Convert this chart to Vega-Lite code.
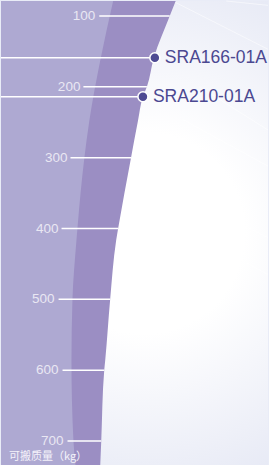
{
  "$schema": "https://vega.github.io/schema/vega-lite/v6.json",
  "width": 269,
  "height": 465,
  "padding": 0,
  "autosize": {"type": "fit", "contains": "padding"},
  "background": "#E9ECF7",
  "config": {"view": {"stroke": null}},
  "datasets": {
    "bg": [{"x": 0, "x2": 269, "v": 78.87, "v2": 733.8}],
    "streaks": [
      {"x": 227, "v": 78.9, "x2": 269, "v2": 85},
      {"x": 173, "v": 78.9, "x2": 269, "v2": 147},
      {"x": 200, "v": 200, "x2": 269, "v2": 261},
      {"x": 183, "v": 246, "x2": 269, "v2": 312},
      {"x": 190, "v": 357, "x2": 269, "v2": 413},
      {"x": 197, "v": 410, "x2": 269, "v2": 465}
    ],
    "dark": [
      {"v": 78.87, "x": 176, "x0": 0},
      {"v": 100, "x": 170, "x0": 0},
      {"v": 159, "x": 154, "x0": 0},
      {"v": 200, "x": 147, "x0": 0},
      {"v": 214, "x": 143, "x0": 0},
      {"v": 248, "x": 138, "x0": 0},
      {"v": 300, "x": 131, "x0": 0},
      {"v": 400, "x": 118, "x0": 0},
      {"v": 417, "x": 116, "x0": 0},
      {"v": 500, "x": 110, "x0": 0},
      {"v": 586, "x": 105, "x0": 0},
      {"v": 600, "x": 104, "x0": 0},
      {"v": 700, "x": 101, "x0": 0},
      {"v": 733.8, "x": 100, "x0": 0}
    ],
    "light": [
      {"v": 78.87, "x": 113, "x0": 0},
      {"v": 163, "x": 100, "x0": 0},
      {"v": 248, "x": 89, "x0": 0},
      {"v": 300, "x": 84, "x0": 0},
      {"v": 400, "x": 77, "x0": 0},
      {"v": 417, "x": 76, "x0": 0},
      {"v": 500, "x": 72, "x0": 0},
      {"v": 586, "x": 71, "x0": 0},
      {"v": 700, "x": 73, "x0": 0},
      {"v": 733.8, "x": 75, "x0": 0}
    ],
    "ticks": [
      {"v": 100, "label": "100", "lx": 95, "t1": 99, "t2": 170},
      {"v": 200, "label": "200", "lx": 80, "t1": 83, "t2": 147},
      {"v": 300, "label": "300", "lx": 67, "t1": 70, "t2": 131},
      {"v": 400, "label": "400", "lx": 58, "t1": 61, "t2": 118},
      {"v": 500, "label": "500", "lx": 54, "t1": 58, "t2": 110},
      {"v": 600, "label": "600", "lx": 58, "t1": 62, "t2": 104},
      {"v": 700, "label": "700", "lx": 63, "t1": 67, "t2": 101}
    ],
    "models": [
      {"model": "SRA166-01A", "v": 159, "x": 155, "x0": 0},
      {"model": "SRA210-01A", "v": 214, "x": 143, "x0": 0}
    ],
    "title": [{"text": "可搬质量（kg）", "x": 8, "v": 733.8}]
  },
  "layer": [
    {
      "data": {"name": "bg"},
      "mark": {
        "type": "rect",
        "fill": {
          "gradient": "radial",
          "x1": 0.52, "y1": 0.5, "r1": 0,
          "x2": 0.52, "y2": 0.5, "r2": 0.62,
          "stops": [
            {"offset": 0, "color": "#FFFFFF"},
            {"offset": 0.35, "color": "#FFFFFF"},
            {"offset": 1, "color": "#E4E7F4"}
          ]
        }
      },
      "encoding": {
        "x": {"field": "x", "type": "quantitative", "scale": {"domain": [0, 269], "nice": false, "zero": false}, "axis": null},
        "x2": {"field": "x2"},
        "y": {"field": "v", "type": "quantitative", "scale": {"domain": [78.87, 733.8], "reverse": true, "nice": false, "zero": false}, "axis": null},
        "y2": {"field": "v2"}
      }
    },
    {
      "data": {"name": "streaks"},
      "mark": {"type": "rule", "stroke": "#FFFFFF", "strokeWidth": 1, "opacity": 0.5},
      "encoding": {
        "x": {"field": "x", "type": "quantitative", "scale": {"domain": [0, 269], "nice": false, "zero": false}, "axis": null},
        "x2": {"field": "x2"},
        "y": {"field": "v", "type": "quantitative", "scale": {"domain": [78.87, 733.8], "reverse": true, "nice": false, "zero": false}, "axis": null},
        "y2": {"field": "v2"}
      }
    },
    {
      "data": {"name": "dark"},
      "mark": {"type": "area", "orient": "horizontal", "fill": "#9B8EC3", "interpolate": "monotone"},
      "encoding": {
        "x": {"field": "x", "type": "quantitative", "stack": null, "scale": {"domain": [0, 269], "nice": false, "zero": false}, "axis": null},
        "x2": {"field": "x0"},
        "y": {"field": "v", "type": "quantitative", "scale": {"domain": [78.87, 733.8], "reverse": true, "nice": false, "zero": false}, "axis": null}
      }
    },
    {
      "data": {"name": "light"},
      "mark": {"type": "area", "orient": "horizontal", "fill": "#AEA9D2", "interpolate": "monotone"},
      "encoding": {
        "x": {"field": "x", "type": "quantitative", "stack": null, "scale": {"domain": [0, 269], "nice": false, "zero": false}, "axis": null},
        "x2": {"field": "x0"},
        "y": {"field": "v", "type": "quantitative", "scale": {"domain": [78.87, 733.8], "reverse": true, "nice": false, "zero": false}, "axis": null}
      }
    },
    {
      "data": {"name": "ticks"},
      "mark": {"type": "rule", "stroke": "#FFFFFF", "strokeWidth": 1.5},
      "encoding": {
        "x": {"field": "t1", "type": "quantitative", "scale": {"domain": [0, 269], "nice": false, "zero": false}, "axis": null},
        "x2": {"field": "t2"},
        "y": {"field": "v", "type": "quantitative", "scale": {"domain": [78.87, 733.8], "reverse": true, "nice": false, "zero": false}, "axis": null}
      }
    },
    {
      "data": {"name": "ticks"},
      "mark": {"type": "text", "align": "right", "baseline": "middle", "font": "Liberation Sans", "fontSize": 13.5, "color": "#E9E7F3"},
      "encoding": {
        "x": {"field": "lx", "type": "quantitative", "scale": {"domain": [0, 269], "nice": false, "zero": false}, "axis": null},
        "y": {"field": "v", "type": "quantitative", "scale": {"domain": [78.87, 733.8], "reverse": true, "nice": false, "zero": false}, "axis": null},
        "text": {"field": "label"}
      }
    },
    {
      "data": {"name": "models"},
      "mark": {"type": "rule", "stroke": "#FFFFFF", "strokeWidth": 1.5},
      "encoding": {
        "x": {"field": "x0", "type": "quantitative", "scale": {"domain": [0, 269], "nice": false, "zero": false}, "axis": null},
        "x2": {"field": "x"},
        "y": {"field": "v", "type": "quantitative", "scale": {"domain": [78.87, 733.8], "reverse": true, "nice": false, "zero": false}, "axis": null}
      }
    },
    {
      "data": {"name": "models"},
      "mark": {"type": "point", "shape": "circle", "filled": true, "fill": "#4E4A93", "stroke": "#FFFFFF", "strokeWidth": 1.5, "size": 100, "opacity": 1},
      "encoding": {
        "x": {"field": "x", "type": "quantitative", "scale": {"domain": [0, 269], "nice": false, "zero": false}, "axis": null},
        "y": {"field": "v", "type": "quantitative", "scale": {"domain": [78.87, 733.8], "reverse": true, "nice": false, "zero": false}, "axis": null}
      }
    },
    {
      "data": {"name": "models"},
      "mark": {"type": "text", "align": "left", "baseline": "middle", "dx": 10, "font": "Liberation Sans", "fontSize": 17.5, "color": "#4B4891"},
      "encoding": {
        "x": {"field": "x", "type": "quantitative", "scale": {"domain": [0, 269], "nice": false, "zero": false}, "axis": null},
        "y": {"field": "v", "type": "quantitative", "scale": {"domain": [78.87, 733.8], "reverse": true, "nice": false, "zero": false}, "axis": null},
        "text": {"field": "model"}
      }
    },
    {
      "data": {"name": "title"},
      "mark": {"type": "text", "align": "left", "baseline": "bottom", "dy": -3, "font": "Noto Sans CJK SC", "fontSize": 11, "color": "#F4F2FA"},
      "encoding": {
        "x": {"field": "x", "type": "quantitative", "scale": {"domain": [0, 269], "nice": false, "zero": false}, "axis": null},
        "y": {"field": "v", "type": "quantitative", "scale": {"domain": [78.87, 733.8], "reverse": true, "nice": false, "zero": false}, "axis": null},
        "text": {"field": "text"}
      }
    }
  ]
}
